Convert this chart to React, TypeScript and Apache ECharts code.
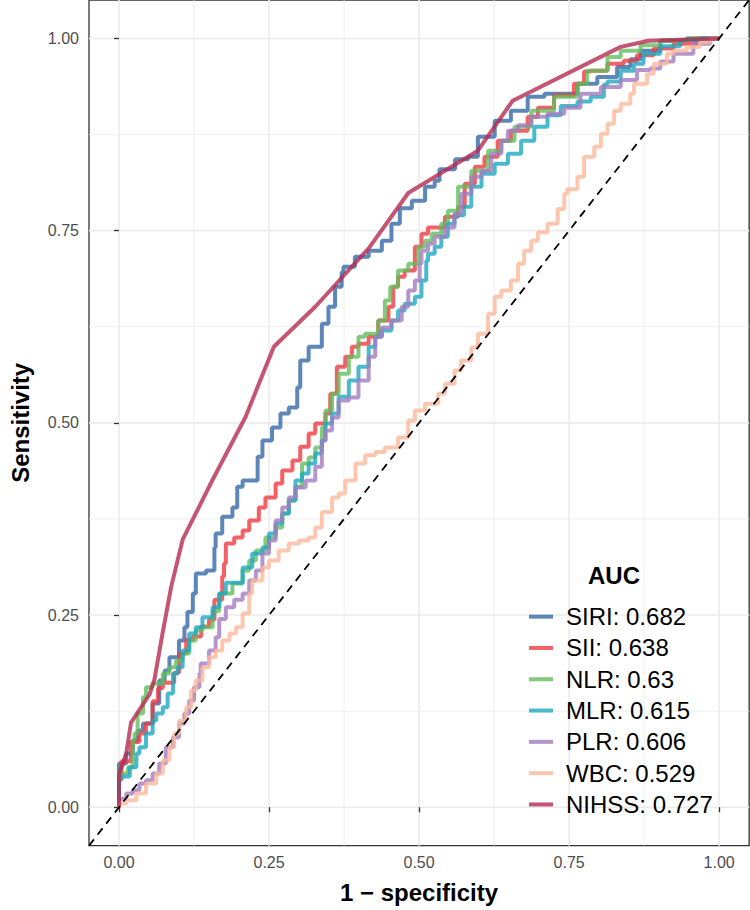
import React, { useEffect, useRef } from "react";
import * as echarts from "echarts";

// ---------- data ----------
const MAJOR_BREAKS = [0, 0.25, 0.5, 0.75, 1];
const MINOR_BREAKS = [0.125, 0.375, 0.625, 0.875];
const MARKER_NAMES = ["SIRI", "SII", "NLR", "MLR", "PLR", "WBC", "NIHSS"];
const AUC_VALUES = ["0.682", "0.638", "0.63", "0.615", "0.606", "0.529", "0.727"];
const X_TITLE = "1 \u2212 specificity";
const Y_TITLE = "Sensitivity";
const LEGEND_TITLE = "AUC";

// ROC points: [1 - specificity, sensitivity]
const SIRI: [number, number][] = [[0,0],[0,0.04],[0.012,0.057],[0.023,0.07],[0.031,0.087],[0.04,0.1],[0.056,0.109],[0.067,0.135],[0.076,0.165],[0.084,0.178],[0.1,0.195],[0.109,0.217],[0.114,0.234],[0.123,0.254],[0.128,0.278],[0.145,0.304],[0.159,0.308],[0.161,0.338],[0.172,0.356],[0.189,0.378],[0.197,0.39],[0.206,0.417],[0.231,0.425],[0.239,0.456],[0.255,0.477],[0.269,0.494],[0.283,0.512],[0.297,0.52],[0.302,0.546],[0.316,0.581],[0.338,0.599],[0.349,0.629],[0.36,0.651],[0.371,0.677],[0.374,0.696],[0.393,0.703],[0.416,0.716],[0.438,0.724],[0.454,0.737],[0.468,0.759],[0.488,0.779],[0.51,0.789],[0.526,0.807],[0.534,0.815],[0.56,0.83],[0.582,0.843],[0.598,0.846],[0.626,0.872],[0.653,0.893],[0.681,0.906],[0.709,0.924],[0.725,0.928],[0.764,0.928],[0.797,0.941],[0.83,0.95],[0.852,0.963],[0.869,0.973],[0.902,0.984],[0.946,0.997],[1,1]];
const SII: [number, number][] = [[0,0],[0,0.025],[0.004,0.036],[0.02,0.06],[0.034,0.085],[0.045,0.096],[0.056,0.109],[0.065,0.138],[0.073,0.155],[0.092,0.162],[0.1,0.175],[0.112,0.2],[0.123,0.218],[0.137,0.222],[0.15,0.235],[0.159,0.244],[0.172,0.27],[0.175,0.3],[0.178,0.317],[0.192,0.343],[0.206,0.351],[0.217,0.36],[0.233,0.373],[0.244,0.39],[0.261,0.403],[0.272,0.421],[0.289,0.438],[0.302,0.451],[0.316,0.469],[0.327,0.486],[0.344,0.499],[0.352,0.512],[0.363,0.538],[0.377,0.573],[0.388,0.586],[0.399,0.599],[0.416,0.603],[0.432,0.612],[0.449,0.633],[0.457,0.651],[0.465,0.677],[0.476,0.69],[0.493,0.698],[0.504,0.729],[0.515,0.746],[0.543,0.754],[0.565,0.768],[0.576,0.781],[0.593,0.811],[0.609,0.833],[0.631,0.846],[0.653,0.867],[0.681,0.88],[0.698,0.898],[0.725,0.91],[0.758,0.926],[0.775,0.941],[0.786,0.957],[0.814,0.958],[0.841,0.967],[0.863,0.971],[0.891,0.978],[0.924,0.987],[0.963,0.993],[1,1]];
const NLR: [number, number][] = [[0,0],[0,0.034],[0.015,0.044],[0.023,0.052],[0.026,0.087],[0.031,0.096],[0.04,0.122],[0.045,0.143],[0.056,0.156],[0.073,0.161],[0.084,0.174],[0.095,0.182],[0.106,0.191],[0.117,0.2],[0.128,0.217],[0.139,0.23],[0.156,0.234],[0.167,0.255],[0.189,0.278],[0.206,0.291],[0.217,0.308],[0.228,0.321],[0.244,0.334],[0.261,0.351],[0.272,0.364],[0.283,0.382],[0.294,0.399],[0.305,0.417],[0.316,0.447],[0.327,0.455],[0.338,0.468],[0.344,0.494],[0.355,0.516],[0.366,0.538],[0.383,0.564],[0.399,0.586],[0.41,0.612],[0.432,0.616],[0.443,0.633],[0.452,0.659],[0.465,0.677],[0.482,0.698],[0.499,0.707],[0.51,0.729],[0.521,0.737],[0.537,0.746],[0.548,0.759],[0.565,0.776],[0.587,0.807],[0.615,0.828],[0.637,0.854],[0.659,0.867],[0.687,0.885],[0.725,0.906],[0.764,0.924],[0.78,0.941],[0.814,0.958],[0.836,0.976],[0.869,0.984],[0.902,0.991],[0.946,0.997],[1,1]];
const MLR: [number, number][] = [[0,0],[0,0.02],[0.004,0.036],[0.018,0.04],[0.029,0.052],[0.034,0.07],[0.045,0.078],[0.056,0.096],[0.062,0.113],[0.073,0.122],[0.081,0.13],[0.09,0.148],[0.098,0.174],[0.106,0.182],[0.117,0.204],[0.128,0.226],[0.139,0.234],[0.156,0.247],[0.167,0.26],[0.178,0.278],[0.206,0.292],[0.222,0.312],[0.239,0.33],[0.25,0.338],[0.261,0.356],[0.272,0.369],[0.283,0.382],[0.294,0.399],[0.305,0.425],[0.316,0.434],[0.327,0.447],[0.338,0.46],[0.344,0.477],[0.355,0.499],[0.366,0.512],[0.383,0.534],[0.399,0.555],[0.416,0.573],[0.427,0.599],[0.438,0.612],[0.454,0.62],[0.465,0.633],[0.476,0.646],[0.493,0.655],[0.504,0.664],[0.512,0.685],[0.515,0.711],[0.526,0.72],[0.537,0.729],[0.548,0.742],[0.559,0.759],[0.575,0.77],[0.587,0.781],[0.604,0.807],[0.626,0.824],[0.648,0.837],[0.67,0.85],[0.692,0.867],[0.714,0.885],[0.736,0.9],[0.764,0.912],[0.786,0.918],[0.808,0.924],[0.814,0.94],[0.836,0.944],[0.858,0.958],[0.874,0.967],[0.902,0.98],[0.935,0.99],[0.968,0.998],[1,1]];
const PLR: [number, number][] = [[0,0],[0.001,0.004],[0.012,0.011],[0.023,0.018],[0.034,0.022],[0.045,0.031],[0.056,0.035],[0.067,0.044],[0.078,0.057],[0.09,0.078],[0.1,0.091],[0.109,0.109],[0.117,0.122],[0.125,0.139],[0.134,0.156],[0.136,0.174],[0.15,0.187],[0.161,0.204],[0.167,0.221],[0.178,0.245],[0.192,0.26],[0.206,0.27],[0.217,0.278],[0.228,0.295],[0.239,0.308],[0.25,0.33],[0.261,0.347],[0.272,0.373],[0.283,0.39],[0.294,0.403],[0.311,0.416],[0.327,0.425],[0.338,0.443],[0.344,0.477],[0.355,0.49],[0.366,0.507],[0.383,0.529],[0.399,0.533],[0.416,0.555],[0.427,0.586],[0.438,0.612],[0.454,0.624],[0.471,0.633],[0.482,0.651],[0.493,0.672],[0.501,0.685],[0.504,0.707],[0.515,0.724],[0.526,0.733],[0.543,0.742],[0.559,0.754],[0.57,0.772],[0.587,0.798],[0.604,0.82],[0.62,0.828],[0.637,0.85],[0.648,0.867],[0.665,0.88],[0.687,0.887],[0.714,0.898],[0.742,0.902],[0.769,0.91],[0.803,0.928],[0.836,0.937],[0.863,0.946],[0.885,0.959],[0.902,0.961],[0.924,0.97],[0.957,0.98],[0.985,0.993],[1,1]];
const WBC: [number, number][] = [[0,0],[0.012,0.005],[0.029,0.009],[0.045,0.018],[0.062,0.031],[0.073,0.044],[0.084,0.061],[0.092,0.078],[0.1,0.096],[0.112,0.113],[0.12,0.13],[0.128,0.152],[0.139,0.165],[0.15,0.182],[0.161,0.195],[0.172,0.204],[0.184,0.217],[0.195,0.226],[0.206,0.234],[0.217,0.252],[0.222,0.278],[0.239,0.295],[0.25,0.312],[0.266,0.321],[0.283,0.334],[0.3,0.343],[0.316,0.347],[0.327,0.351],[0.338,0.364],[0.355,0.384],[0.366,0.403],[0.377,0.408],[0.394,0.425],[0.41,0.447],[0.427,0.458],[0.443,0.462],[0.465,0.468],[0.482,0.481],[0.493,0.503],[0.51,0.516],[0.532,0.525],[0.543,0.538],[0.559,0.551],[0.57,0.568],[0.587,0.581],[0.598,0.598],[0.615,0.616],[0.626,0.642],[0.637,0.664],[0.653,0.672],[0.665,0.685],[0.675,0.707],[0.687,0.724],[0.698,0.737],[0.714,0.748],[0.731,0.759],[0.742,0.778],[0.747,0.798],[0.764,0.804],[0.775,0.82],[0.792,0.846],[0.803,0.859],[0.814,0.876],[0.825,0.889],[0.836,0.906],[0.852,0.915],[0.858,0.928],[0.88,0.941],[0.891,0.954],[0.913,0.967],[0.924,0.98],[0.946,0.984],[0.968,0.989],[0.985,0.995],[1,1]];
const NIHSS: [number, number][] = [[0,0],[0,0.042],[0.012,0.07],[0.02,0.11],[0.051,0.147],[0.059,0.166],[0.073,0.228],[0.087,0.287],[0.106,0.348],[0.156,0.426],[0.211,0.508],[0.258,0.599],[0.327,0.651],[0.416,0.727],[0.482,0.799],[0.598,0.854],[0.656,0.919],[0.836,0.989],[0.882,0.997],[1,1]];
const CURVES = [SIRI, SII, NLR, MLR, PLR, WBC, NIHSS];
const STEPPED = [true, true, true, true, true, true, false];
const REFERENCE_LINE: [number, number][] = [[-0.05, -0.05], [1.05, 1.05]];

// ---------- style ----------
const COLORS = ["#3669A8", "#EE3A3E", "#63BD5C", "#1EA8C1", "#A17CC0", "#FBB89B", "#B52B50"];
const FONT = "'Liberation Sans', Arial, Helvetica, sans-serif";
const AX_MIN = -0.05;
const AX_MAX = 1.05;

export default function App() {
  const ref = useRef<HTMLDivElement>(null);

  useEffect(() => {
    if (!ref.current) return;
    const chart = echarts.init(ref.current, null, { renderer: "svg" });

    const gridData: number[][] = [];
    MAJOR_BREAKS.forEach((v) => { gridData.push([v, 0, 1]); gridData.push([v, 1, 1]); });
    MINOR_BREAKS.forEach((v) => { gridData.push([v, 0, 0]); gridData.push([v, 1, 0]); });

    const names = MARKER_NAMES.map((n, i) => `${n}: ${AUC_VALUES[i]}`);

    const axisCommon = {
      type: "value",
      min: AX_MIN,
      max: AX_MAX,
      axisLine: { show: false },
      splitLine: { show: false },
      axisTick: {
        show: true,
        length: 5,
        customValues: MAJOR_BREAKS,
        lineStyle: { color: "#333333", width: 1.3 },
      },
      nameTextStyle: { fontFamily: FONT, fontWeight: "bold", fontSize: 24, color: "#000" },
    };

    const option: any = {
      animation: false,
      backgroundColor: "#ffffff",
      grid: {
        left: 85.85,
        right: 0.85,
        top: 0,
        bottom: 64.3,
        show: true,
        borderColor: "#333333",
        borderWidth: 1.3,
        backgroundColor: "transparent",
        containLabel: false,
      },
      xAxis: {
        ...axisCommon,
        name: X_TITLE,
        nameLocation: "middle",
        nameGap: 35,
        axisLabel: {
          customValues: MAJOR_BREAKS,
          formatter: (v: number) => v.toFixed(2),
          fontFamily: FONT,
          fontSize: 16,
          color: "#4D4D4D",
          margin: 9,
        },
      },
      yAxis: {
        ...axisCommon,
        name: Y_TITLE,
        nameLocation: "middle",
        nameGap: 57,
        nameRotate: 90,
        axisLabel: {
          customValues: MAJOR_BREAKS,
          formatter: (v: number) => v.toFixed(2),
          fontFamily: FONT,
          fontSize: 16,
          color: "#4D4D4D",
          margin: 10,
        },
      },
      legend: {
        data: names,
        orient: "vertical",
        left: 529,
        top: 601,
        padding: 0,
        itemGap: 0,
        itemWidth: 24,
        itemHeight: 4,
        icon: "rect",
        itemStyle: { opacity: 0.8 },
        selectedMode: false,
        textStyle: {
          fontFamily: FONT,
          fontSize: 24,
          color: "#000000",
          lineHeight: 31.3,
          padding: [0, 0, 0, 8],
        },
      },
      graphic: [
        {
          type: "text",
          left: 588,
          top: 563,
          style: {
            text: LEGEND_TITLE,
            font: `bold 24px ${FONT}`,
            fill: "#000000",
          },
        },
      ],
      series: [
        {
          type: "custom",
          silent: true,
          z: 0,
          encode: { x: 0, y: 0 },
          data: gridData,
          renderItem: (_params: any, api: any) => {
            const v = api.value(0);
            const orient = api.value(1);
            const major = api.value(2);
            const p1 = orient === 0 ? api.coord([v, AX_MIN]) : api.coord([AX_MIN, v]);
            const p2 = orient === 0 ? api.coord([v, AX_MAX]) : api.coord([AX_MAX, v]);
            return {
              type: "line",
              shape: { x1: p1[0], y1: p1[1], x2: p2[0], y2: p2[1] },
              style: { stroke: "#EBEBEB", lineWidth: major ? 1.6 : 0.8 },
            };
          },
        },
        ...CURVES.map((pts, i) => ({
          name: names[i],
          type: "line",
          data: pts,
          step: STEPPED[i] ? "start" : false,
          showSymbol: false,
          symbol: "none",
          z: 3,
          color: COLORS[i],
          lineStyle: { color: COLORS[i], width: 4, opacity: 0.8 },
          emphasis: { disabled: true },
        })),
        {
          type: "line",
          data: REFERENCE_LINE,
          showSymbol: false,
          symbol: "none",
          z: 5,
          silent: true,
          lineStyle: { color: "#000000", width: 1.8, type: [8, 6] },
          emphasis: { disabled: true },
        },
      ],
    };

    chart.setOption(option);
    return () => chart.dispose();
  }, []);

  return (
    <div
      ref={ref}
      style={{ position: "fixed", left: 0, top: 0, width: 750, height: 910, background: "#fff" }}
    />
  );
}
